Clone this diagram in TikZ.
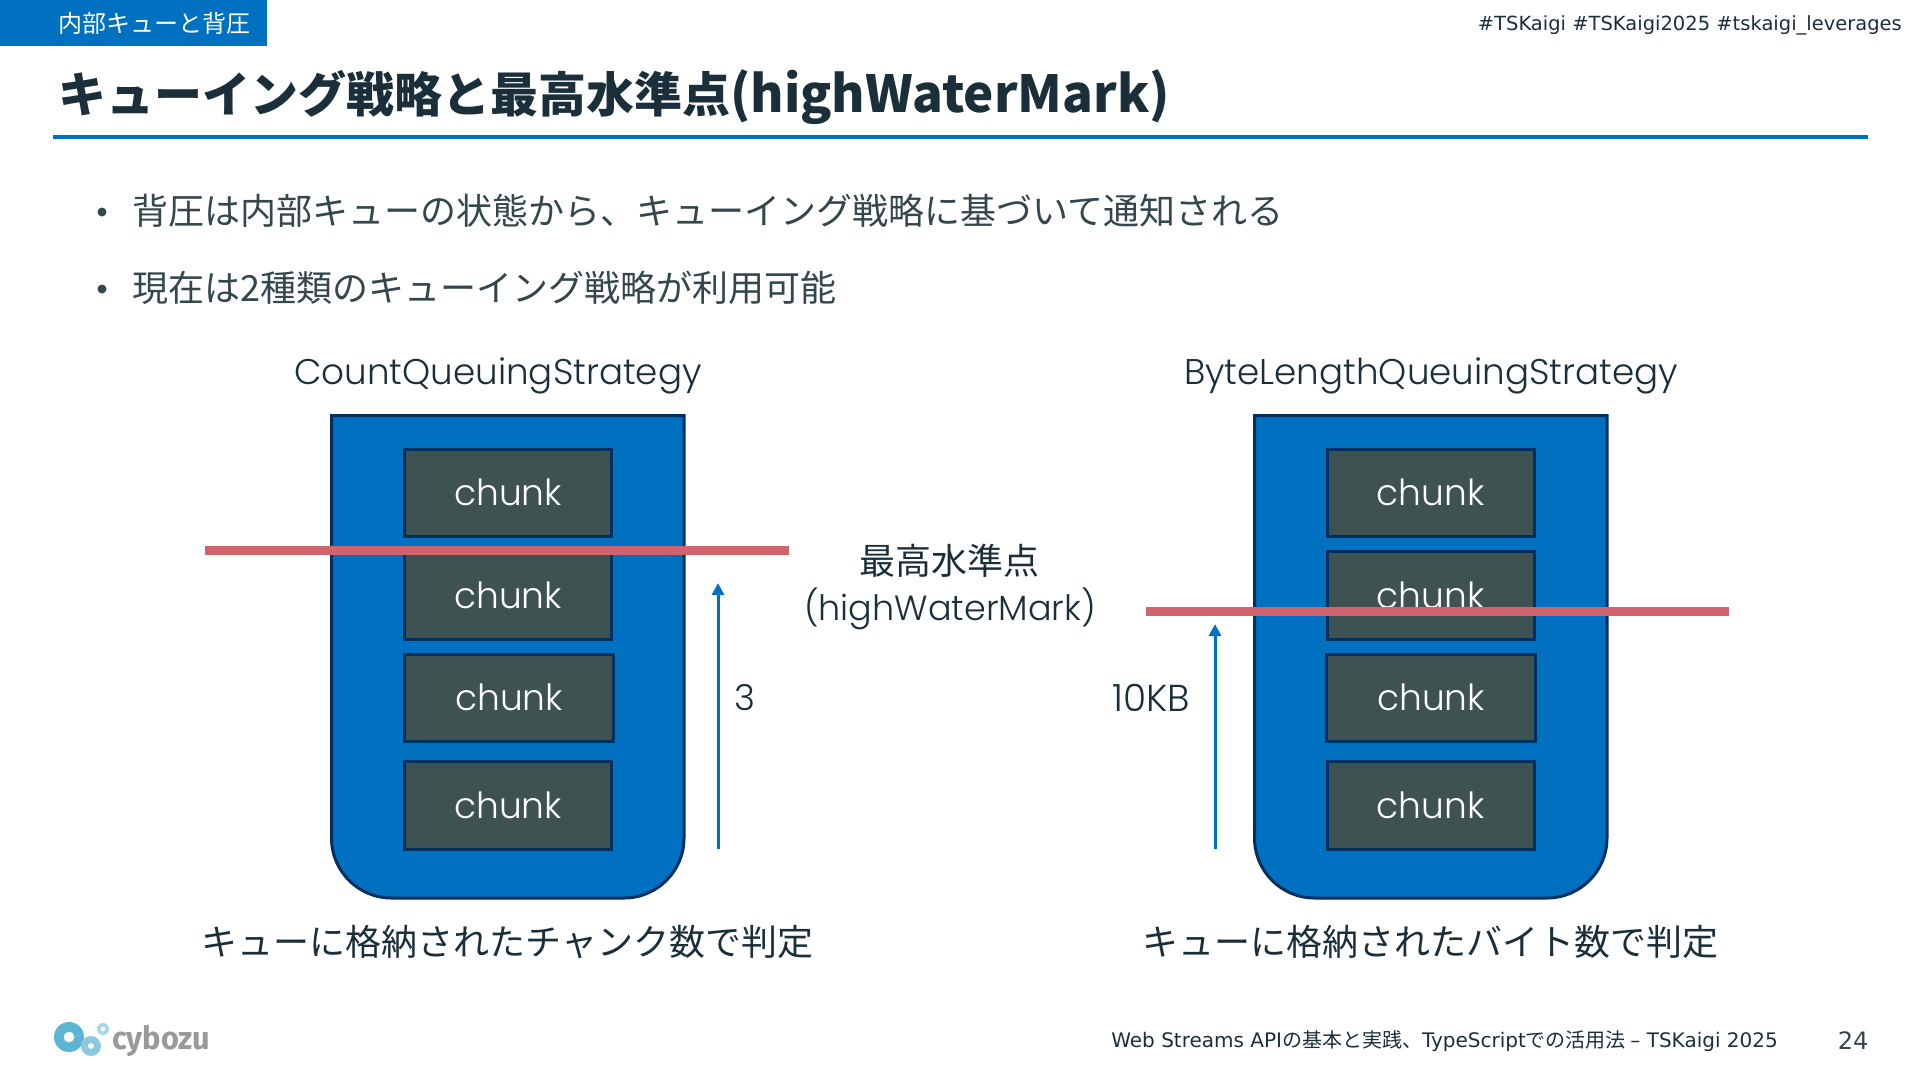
\documentclass[tikz,border=0pt]{standalone}
\usepackage{fontspec}
\usepackage{xcolor}
\usetikzlibrary{arrows.meta}
\setmainfont{Noto Sans CJK JP}
\newfontfamily\geofont{Poppins Light}
\newfontfamily\verdfont{DejaVu Sans}
\newfontfamily\logofont{Fira Sans}
\definecolor{accent}{RGB}{0,112,192}
\definecolor{bucketline}{RGB}{0,48,96}
\definecolor{chunkfill}{RGB}{62,82,82}
\definecolor{softred}{RGB}{208,99,107}
\definecolor{inkdark}{RGB}{27,47,59}
\definecolor{inkbody}{RGB}{51,71,77}
\definecolor{logobig}{RGB}{92,181,211}
\definecolor{logomid}{RGB}{140,200,222}
\definecolor{logosmall}{RGB}{168,216,230}
\definecolor{logotext}{RGB}{153,153,153}
\tikzset{
  bucketbox/.style={fill=accent, draw=bucketline, line width=3pt},
  chunkbox/.style={fill=chunkfill, draw=bucketline, line width=3pt, minimum width=207pt, inner sep=0pt,
    text=white, font=\geofont\fontsize{36}{36}\selectfont},
  markline/.style={draw=softred, line width=9.5pt},
  sizearrow/.style={draw=accent, line width=3pt, -{Triangle[length=12pt,width=12pt]}},
  bodytext/.style={text=inkbody, inner sep=0pt, font=\fontsize{36}{36}\selectfont},
  geotext/.style={text=inkdark, inner sep=0pt, font=\geofont\fontsize{35.7}{36}\selectfont},
  captext/.style={text=inkdark, inner sep=0pt, font=\fontsize{36}{36}\selectfont},
}

\begin{document}
\begin{tikzpicture}[x=1pt, y=-1pt]
  \useasboundingbox (0, 0) rectangle (1920, 1080);
  % Header
  \fill[accent] (0, 0) rectangle (267, 46);
  \node[anchor=west, text=white, inner sep=0pt, font=\fontsize{24}{24}\selectfont] (tag) at (58, 23) {内部キューと背圧};
  \node[anchor=east, text=inkdark, inner sep=0pt, font=\verdfont\fontsize{19.5}{20}\selectfont] (hashtags) at (1902, 25) {\#TSKaigi \#TSKaigi2025 \#tskaigi\_leverages};
  \node[anchor=west, text=inkdark, inner sep=0pt, font=\bfseries\fontsize{48}{48}\selectfont] (title) at (58, 97) {キューイング戦略と最高水準点{\fontsize{51}{48}\selectfont (highWaterMark)}};
  \fill[accent] (53, 135) rectangle (1868, 139);
  % Bullets
  \fill[inkbody] (102, 212) circle (4.5pt);
  \node[bodytext, anchor=west] (bulletone) at (132, 211) {背圧は内部キューの状態から、キューイング戦略に基づいて通知される};
  \fill[inkbody] (102, 289) circle (4.5pt);
  \node[bodytext, anchor=west] (bullettwo) at (132, 288) {現在は2種類のキューイング戦略が利用可能};
  % Left queue
  \node[geotext] (countname) at (498, 376) {CountQueuingStrategy};
  \draw[bucketbox] (331.5, 415.5) [rounded corners=60pt] -- (331.5, 898) -- (684, 898) [sharp corners] -- (684, 415.5) -- cycle;
  \node[chunkbox, minimum height=87pt] (countone) at (508, 492.5) {chunk};
  \node[chunkbox, minimum height=88pt] (counttwo) at (508, 595) {chunk};
  \node[chunkbox, minimum height=87pt, minimum width=209pt] (countthree) at (509, 697.5) {chunk};
  \node[chunkbox, minimum height=88pt] (countfour) at (508, 805.5) {chunk};
  \coordinate (countmarkl) at (205, 550.5);
  \coordinate (countmarkr) at (789, 550.5);
  \draw[markline] (countmarkl) -- (countmarkr);
  \coordinate (countfoot) at (718, 849);
  \coordinate (counthead) at (718, 583);
  \draw[sizearrow] (countfoot) -- (counthead);
  \node[geotext] (countvalue) at (745, 698) {3};
  \node[captext] (countnote) at (507.5, 942) {キューに格納されたチャンク数で判定};
  % Right queue
  \node[geotext] (bytename) at (1431, 376) {ByteLengthQueuingStrategy};
  \draw[bucketbox] (1254.5, 415.5) [rounded corners=60pt] -- (1254.5, 898) -- (1607, 898) [sharp corners] -- (1607, 415.5) -- cycle;
  \node[chunkbox, minimum height=87pt] (byteone) at (1430.5, 492.5) {chunk};
  \node[chunkbox, minimum height=88pt] (bytetwo) at (1430.5, 595) {chunk};
  \node[chunkbox, minimum height=87pt, minimum width=209pt] (bytethree) at (1431, 697.5) {chunk};
  \node[chunkbox, minimum height=88pt] (bytefour) at (1430.5, 805.5) {chunk};
  \coordinate (bytemarkl) at (1146, 611.5);
  \coordinate (bytemarkr) at (1729, 611.5);
  \draw[markline] (bytemarkl) -- (bytemarkr);
  \coordinate (bytefoot) at (1215, 849);
  \coordinate (bytehead) at (1215, 624);
  \draw[sizearrow] (bytefoot) -- (bytehead);
  \node[geotext, font=\geofont\fontsize{37.5}{36}\selectfont] (bytevalue) at (1151, 698) {10KB};
  \node[captext] (bytenote) at (1430, 942) {キューに格納されたバイト数で判定};
  % Middle label
  \node[captext] (marktext) at (949, 561) {最高水準点};
  \node[geotext, font=\geofont\fontsize{35}{36}\selectfont] (markname) at (950, 609) {(highWaterMark)};
  % Footer
  \fill[logobig, even odd rule] (69, 1037) circle (15pt) (69, 1037) circle (5.5pt);
  \fill[logomid, even odd rule] (91, 1046) circle (10pt) (91, 1046) circle (3pt);
  \fill[logosmall, even odd rule] (103, 1029) circle (6pt) (103, 1029) circle (2.5pt);
  \node[anchor=west, text=logotext, inner sep=0pt, xscale=0.96, font=\logofont\bfseries\fontsize{32}{32}\selectfont] (logoname) at (112, 1041) {cybozu};
  \node[anchor=east, text=inkdark, inner sep=0pt, font=\fontsize{20}{20}\selectfont] (talkname) at (1778, 1041) {{\verdfont Web Streams API}の基本と実践、{\verdfont TypeScript}での活用法 {\verdfont – TSKaigi 2025}};
  \node[text=inkbody, inner sep=0pt, font=\verdfont\fontsize{24}{24}\selectfont] (pagenum) at (1853, 1041) {24};
\end{tikzpicture}
\end{document}
